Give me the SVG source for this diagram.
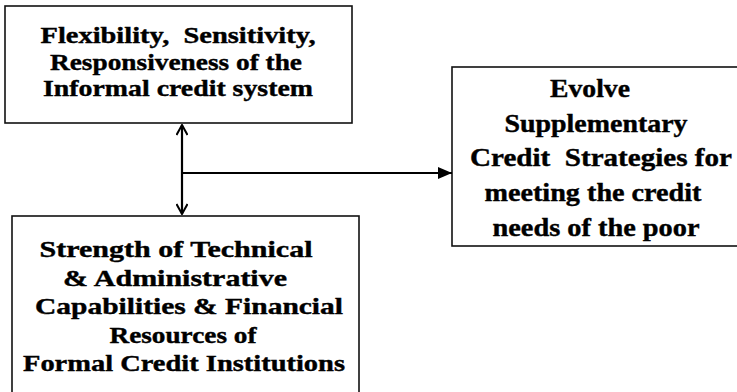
<svg xmlns="http://www.w3.org/2000/svg" width="737" height="392" viewBox="0 0 737 392">
<style>
.box{fill:#fff;stroke:#111;stroke-width:1.6}
.t{font-family:"Liberation Serif",serif;font-weight:700;font-size:24px;fill:#000;stroke:#000;stroke-width:0.4;text-anchor:middle;white-space:pre}
.r{font-size:25px}
.c{fill:none;stroke:#000;stroke-width:2.2}
</style>
<defs>
<marker id="open" viewBox="0 0 12 12" refX="11" refY="6" markerWidth="12" markerHeight="12" markerUnits="userSpaceOnUse" orient="auto-start-reverse">
<path d="M1,0.5 L11,6 L1,11.5" fill="none" stroke="#000" stroke-width="2"/>
</marker>
<marker id="solid" viewBox="0 0 14 12" refX="14" refY="6" markerWidth="14" markerHeight="12" markerUnits="userSpaceOnUse" orient="auto">
<path d="M0,0 L14,6 L0,12 Z" fill="#000"/>
</marker>
</defs>
<g id="node-informal">
<rect class="box" x="5" y="6" width="347" height="117"/>
<text class="t" x="178" y="43" textLength="275" lengthAdjust="spacingAndGlyphs">Flexibility,  Sensitivity,</text>
<text class="t" x="176" y="70" textLength="252" lengthAdjust="spacingAndGlyphs">Responsiveness of the</text>
<text class="t" x="178" y="96" textLength="270" lengthAdjust="spacingAndGlyphs">Informal credit system</text>
</g>
<g id="node-formal">
<rect class="box" x="12" y="216" width="347" height="190"/>
<text class="t" x="176" y="257" textLength="273" lengthAdjust="spacingAndGlyphs">Strength of Technical</text>
<text class="t" x="175" y="286" textLength="224" lengthAdjust="spacingAndGlyphs">&amp; Administrative</text>
<text class="t" x="189" y="314" textLength="308" lengthAdjust="spacingAndGlyphs">Capabilities &amp; Financial</text>
<text class="t" x="183" y="343" textLength="147" lengthAdjust="spacingAndGlyphs">Resources of</text>
<text class="t" x="184" y="371" textLength="322" lengthAdjust="spacingAndGlyphs">Formal Credit Institutions</text>
</g>
<g id="node-evolve">
<rect class="box" x="452" y="67" width="290" height="179"/>
<text class="t r" x="590" y="97" textLength="80" lengthAdjust="spacingAndGlyphs">Evolve</text>
<text class="t r" x="596" y="132" textLength="183" lengthAdjust="spacingAndGlyphs">Supplementary</text>
<text class="t r" x="601" y="166" textLength="262" lengthAdjust="spacingAndGlyphs">Credit  Strategies for</text>
<text class="t r" x="593" y="201" textLength="217" lengthAdjust="spacingAndGlyphs">meeting the credit</text>
<text class="t r" x="596" y="236" textLength="207" lengthAdjust="spacingAndGlyphs">needs of the poor</text>
</g>
<g id="connectors">
<line class="c" x1="182" y1="125" x2="182" y2="214" marker-start="url(#open)" marker-end="url(#open)"/>
<line class="c" x1="182" y1="173" x2="452" y2="173" marker-end="url(#solid)"/>
</g>
</svg>
